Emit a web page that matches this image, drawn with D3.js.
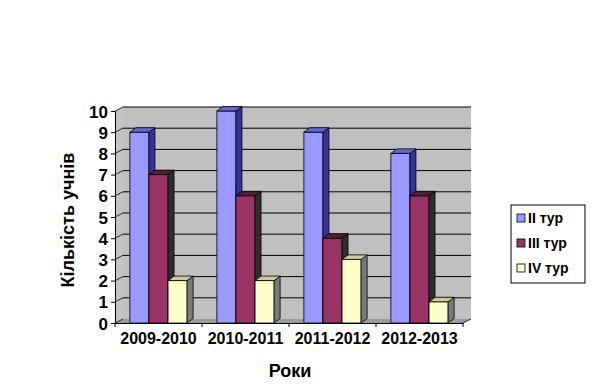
<!DOCTYPE html>
<html>
<head>
<meta charset="utf-8">
<script src="https://cdn.jsdelivr.net/npm/d3@7"></script>
<style>
  body { margin: 0; background: #fff; }
  text { font-family: "Liberation Sans", Arial, sans-serif; font-weight: bold; }
</style>
</head>
<body>
<div id="chart"></div>
<script>
// chart data
var years = ["2009-2010", "2010-2011", "2011-2012", "2012-2013"];
var seriesNames = ["II тур", "III тур", "IV тур"];
var tur2 = [9, 10, 9, 8];
var tur3 = [7, 6, 4, 6];
var tur4 = [2, 2, 3, 1];
var yTicks = [0, 1, 2, 3, 4, 5, 6, 7, 8, 9, 10];

// face colours: front, side, top
var colors = [
  { front: "#9999FF", side: "#333399", top: "#6666CC" },
  { front: "#993366", side: "#2E2E2E", top: "#4D2233" },
  { front: "#FFFFCC", side: "#7A7A7A", top: "#CCCC99" }
];

var W = 597, H = 387;
var left = 115, right = 463, y0 = 323, y10 = 111;
var depthX = 8, depthY = -4;   // wall depth
var barDX = 6, barDY = -4.5;    // bar depth

var svg = d3.select("#chart").append("svg")
  .attr("width", W)
  .attr("height", H);

var xScale = d3.scaleBand()
  .domain(years)
  .range([left, right])
  .paddingInner(0)
  .paddingOuter(0);

var inner = d3.scaleBand()
  .domain(seriesNames)
  .range([0, xScale.bandwidth()])
  .paddingOuter(0.78);

var yScale = d3.scaleLinear()
  .domain([0, 10])
  .range([y0, y10]);

// back wall
svg.append("rect")
  .attr("x", left + depthX)
  .attr("y", yScale(10) + depthY)
  .attr("width", right - left)
  .attr("height", yScale(0) - yScale(10))
  .attr("fill", "#C0C0C0");

// side wall
svg.append("polygon")
  .attr("points", [
    [left, yScale(10)], [left + depthX, yScale(10) + depthY],
    [left + depthX, yScale(0) + depthY], [left, yScale(0)]
  ].join(" "))
  .attr("fill", "#C4C4C4");

// floor
svg.append("polygon")
  .attr("points", [
    [left, yScale(0)], [left + depthX, yScale(0) + depthY],
    [right + depthX, yScale(0) + depthY], [right, yScale(0)]
  ].join(" "))
  .attr("fill", "#9A9A9A");

// gridlines on back wall and side wall
svg.selectAll(".grid")
  .data(yTicks.slice(1))
  .enter().append("line")
    .attr("x1", left + depthX)
    .attr("x2", right + depthX)
    .attr("y1", function(d){ return yScale(d) + depthY; })
    .attr("y2", function(d){ return yScale(d) + depthY; })
    .attr("stroke", "#000")
    .attr("stroke-width", 1);

svg.selectAll(".sidegrid")
  .data(yTicks)
  .enter().append("line")
    .attr("x1", left)
    .attr("x2", left + depthX)
    .attr("y1", function(d){ return yScale(d); })
    .attr("y2", function(d){ return yScale(d) + depthY; })
    .attr("stroke", "#000")
    .attr("stroke-width", 0.8);

// floor right edge
svg.append("line")
  .attr("x1", right).attr("y1", yScale(0))
  .attr("x2", right + depthX).attr("y2", yScale(0) + depthY)
  .attr("stroke", "#000").attr("stroke-width", 0.8);

// bars
var allSeries = [tur2, tur3, tur4];
var barData = [];
years.forEach(function(yr, i){
  allSeries.forEach(function(s, j){
    barData.push({ year: yr, name: seriesNames[j], value: s[i], c: colors[j] });
  });
});

var bw = inner.bandwidth();
var bars = svg.selectAll(".bar")
  .data(barData)
  .enter().append("g");

bars.append("rect")
  .attr("x", function(d){ return xScale(d.year) + inner(d.name); })
  .attr("y", function(d){ return yScale(d.value); })
  .attr("width", bw)
  .attr("height", function(d){ return yScale(0) - yScale(d.value); })
  .attr("fill", function(d){ return d.c.front; })
  .attr("stroke", "#000")
  .attr("stroke-width", 0.8);

bars.append("polygon")
  .attr("points", function(d){
    var x = xScale(d.year) + inner(d.name) + bw;
    var yt = yScale(d.value), yb = yScale(0);
    return [[x, yt], [x + barDX, yt + barDY], [x + barDX, yb + barDY], [x, yb]].join(" ");
  })
  .attr("fill", function(d){ return d.c.side; })
  .attr("stroke", "#000")
  .attr("stroke-width", 0.8);

bars.append("polygon")
  .attr("points", function(d){
    var x = xScale(d.year) + inner(d.name);
    var yt = yScale(d.value);
    return [[x, yt], [x + barDX, yt + barDY], [x + bw + barDX, yt + barDY], [x + bw, yt]].join(" ");
  })
  .attr("fill", function(d){ return d.c.top; })
  .attr("stroke", "#000")
  .attr("stroke-width", 0.8);

// y axis
var yAxis = d3.axisLeft(yScale)
  .tickValues(yTicks)
  .tickSize(4)
  .tickPadding(3);

var gy = svg.append("g")
  .attr("transform", "translate(" + left + ",0)")
  .call(yAxis);
gy.selectAll("text").attr("font-size", 17).attr("fill", "#000").attr("dy", "0.36em");
gy.selectAll("line, path").attr("stroke", "#000");

// x axis
var xAxis = d3.axisBottom(xScale)
  .tickSize(0)
  .tickPadding(10);

var gx = svg.append("g")
  .attr("transform", "translate(0," + y0 + ")")
  .call(xAxis);
gx.selectAll("text").attr("font-size", 16).attr("fill", "#000");
gx.select("path").attr("stroke", "#000");

// category boundary ticks
var bounds = years.map(function(d){ return xScale(d); }).concat([right]);
svg.selectAll(".xtick")
  .data(bounds)
  .enter().append("line")
    .attr("x1", function(d){ return d; })
    .attr("x2", function(d){ return d; })
    .attr("y1", y0)
    .attr("y2", y0 + 4)
    .attr("stroke", "#000");

// axis titles
svg.append("text")
  .attr("x", 290)
  .attr("y", 377)
  .attr("text-anchor", "middle")
  .attr("font-size", 18)
  .text("Роки");

svg.append("text")
  .attr("transform", "translate(74,220) rotate(-90)")
  .attr("text-anchor", "middle")
  .attr("font-size", 18)
  .text("Кількість учнів");

// legend
var legend = svg.append("g").attr("transform", "translate(511,205)");
legend.append("rect")
  .attr("width", 74)
  .attr("height", 78)
  .attr("fill", "#fff")
  .attr("stroke", "#000");

var items = legend.selectAll(".item")
  .data(seriesNames)
  .enter().append("g")
    .attr("transform", function(d, i){ return "translate(6," + (13 + i * 25) + ")"; });

items.append("rect")
  .attr("width", 8)
  .attr("height", 8)
  .attr("y", -4)
  .attr("fill", function(d, i){ return colors[i].front; })
  .attr("stroke", "#000")
  .attr("stroke-width", 0.8);

items.append("text")
  .attr("x", 11)
  .attr("y", 5)
  .attr("font-size", 14)
  .text(function(d){ return d; });
</script>
</body>
</html>
